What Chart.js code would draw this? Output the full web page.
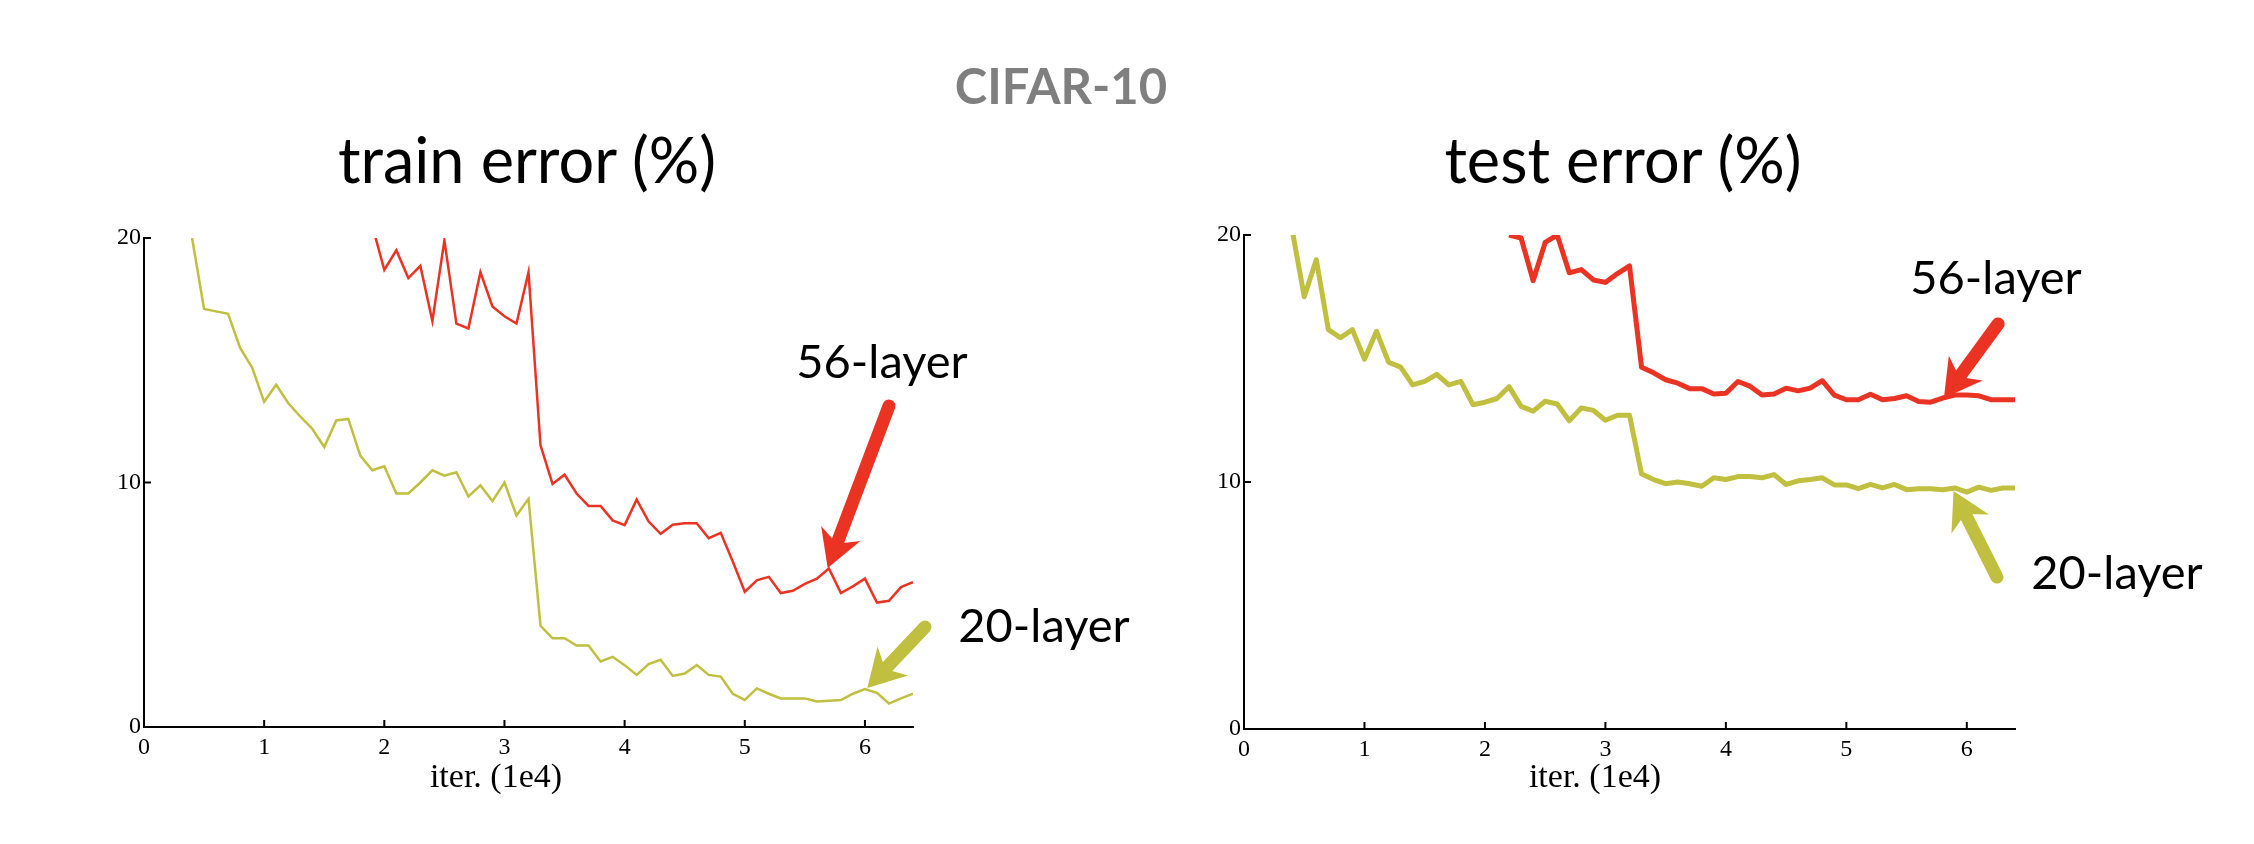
<!DOCTYPE html>
<html>
<head>
<meta charset="utf-8">
<script src="https://cdn.jsdelivr.net/npm/chart.js@4/dist/chart.umd.min.js"></script>
<style>
    html, body { margin: 0; padding: 0; background: #fff; }
    body { width: 2254px; height: 844px; position: relative; overflow: hidden; }
    canvas { position: absolute; top: 0; }
    .txt { position: absolute; white-space: nowrap; line-height: 1; transform: translateX(-50%); color: #000; }
    .sans { font-family: Lato, "Noto Sans", sans-serif; }
    .serif { font-family: "Liberation Serif", "DejaVu Serif", serif; }
</style>
</head>
<body>
<canvas id="trainChart" width="1127" height="844" style="left:0"></canvas>
<canvas id="testChart" width="1127" height="844" style="left:1127px"></canvas>

<div class="txt sans" style="left:1061px; top:61px; font-size:49px; font-weight:bold; color:#7f7f7f;">CIFAR-10</div>
<div class="txt sans" style="left:527px; top:127px; font-size:63px;">train error (%)</div>
<div class="txt sans" style="left:1623px; top:127px; font-size:63px;">test error (%)</div>
<div class="txt serif" style="left:496px; top:759px; font-size:34px;">iter. (1e4)</div>
<div class="txt serif" style="left:1595px; top:759px; font-size:34px;">iter. (1e4)</div>
<div class="txt sans" style="left:882px; top:337px; font-size:47px;">56-layer</div>
<div class="txt sans" style="left:1044px; top:601px; font-size:47px;">20-layer</div>
<div class="txt sans" style="left:1996px; top:253px; font-size:47px;">56-layer</div>
<div class="txt sans" style="left:2117px; top:548px; font-size:47px;">20-layer</div>

<script>
// iterations (1e4) and error (%)
const iter20 = [0.4, 0.5, 0.6, 0.7, 0.8, 0.9, 1.0, 1.1, 1.2, 1.3, 1.4, 1.5, 1.6, 1.7, 1.8, 1.9,
    2.0, 2.1, 2.2, 2.3, 2.4, 2.5, 2.6, 2.7, 2.8, 2.9, 3.0, 3.1, 3.2, 3.3, 3.4, 3.5, 3.6, 3.7, 3.8, 3.9,
    4.0, 4.1, 4.2, 4.3, 4.4, 4.5, 4.6, 4.7, 4.8, 4.9, 5.0, 5.1, 5.2, 5.3, 5.4, 5.5, 5.6, 5.7, 5.8, 5.9,
    6.0, 6.1, 6.2, 6.3, 6.4];
const trainIter56 = [1.9, 2.0, 2.1, 2.2, 2.3, 2.4, 2.5, 2.6, 2.7, 2.8, 2.9, 3.0, 3.1, 3.2, 3.3, 3.4,
    3.5, 3.6, 3.7, 3.8, 3.9, 4.0, 4.1, 4.2, 4.3, 4.4, 4.5, 4.6, 4.7, 4.8, 4.9, 5.0, 5.1, 5.2, 5.3, 5.4,
    5.5, 5.6, 5.7, 5.8, 5.9, 6.0, 6.1, 6.2, 6.3, 6.4];
const testIter56 = [2.2, 2.3, 2.4, 2.5, 2.6, 2.7, 2.8, 2.9, 3.0, 3.1, 3.2, 3.3, 3.4, 3.5, 3.6, 3.7,
    3.8, 3.9, 4.0, 4.1, 4.2, 4.3, 4.4, 4.5, 4.6, 4.7, 4.8, 4.9, 5.0, 5.1, 5.2, 5.3, 5.4, 5.5, 5.6, 5.7,
    5.8, 5.9, 6.0, 6.1, 6.2, 6.3, 6.4];

const train20 = [20.0, 17.1, 17.0, 16.9, 15.5, 14.7, 13.3, 14.0, 13.25, 12.7, 12.2, 11.45, 12.54, 12.6, 11.1, 10.5,
    10.66, 9.55, 9.55, 10.0, 10.5, 10.28, 10.42, 9.43, 9.88, 9.24, 10.0, 8.65, 9.33, 4.14, 3.63, 3.63, 3.33, 3.33, 2.68, 2.87,
    2.53, 2.13, 2.57, 2.75, 2.09, 2.19, 2.53, 2.13, 2.06, 1.36, 1.11, 1.58, 1.36, 1.17, 1.17, 1.17, 1.04, 1.07, 1.1, 1.36,
    1.55, 1.4, 0.96, 1.17, 1.36];
const train56 = [20.5, 18.7, 19.5, 18.36, 18.86, 16.6, 19.9, 16.5, 16.3, 18.6, 17.2, 16.8, 16.5, 18.6, 11.52, 9.94,
    10.32, 9.55, 9.04, 9.04, 8.45, 8.26, 9.3, 8.4, 7.9, 8.27, 8.33, 8.33, 7.72, 7.94, 6.77, 5.53, 6.0, 6.14, 5.48, 5.57,
    5.85, 6.07, 6.48, 5.48, 5.75, 6.07, 5.09, 5.16, 5.72, 5.92];
const test20 = [20.2, 17.5, 19.0, 16.17, 15.84, 16.17, 14.97, 16.1, 14.85, 14.65, 13.93, 14.07, 14.36, 13.93, 14.07, 13.13,
    13.23, 13.38, 13.86, 13.06, 12.87, 13.27, 13.16, 12.48, 13.0, 12.9, 12.5, 12.7, 12.7, 10.32, 10.1, 9.93, 10.0, 9.93, 9.83, 10.17,
    10.1, 10.22, 10.22, 10.17, 10.3, 9.9, 10.05, 10.1, 10.17, 9.88, 9.88, 9.73, 9.9, 9.76, 9.9, 9.69, 9.73, 9.73, 9.69, 9.76,
    9.59, 9.79, 9.66, 9.76, 9.76];
const test56 = [20.0, 19.88, 18.15, 19.7, 20.0, 18.47, 18.6, 18.18, 18.08, 18.44, 18.75, 14.65, 14.42, 14.14, 14.0, 13.78,
    13.78, 13.56, 13.59, 14.07, 13.88, 13.52, 13.56, 13.8, 13.69, 13.8, 14.1, 13.52, 13.33, 13.33, 13.55, 13.33, 13.38, 13.49, 13.26, 13.23,
    13.4, 13.52, 13.52, 13.49, 13.33, 13.33, 13.33];

const xTicks = [0, 1, 2, 3, 4, 5, 6];
const yTicks = [0, 10, 20];

const RED = '#ea3323';
const GREEN = '#c0bf40';

Chart.defaults.animation = false;
Chart.defaults.devicePixelRatio = 1;

function toPoints(xs, ys) {
    return xs.map((x, i) => ({x: x, y: ys[i]}));
}

function drawArrow(ctx, x1, y1, x2, y2, color) {
    // tail (x1,y1) -> tip (x2,y2), notched head like the slide arrows
    let dx = x2 - x1, dy = y2 - y1;
    let len = Math.hypot(dx, dy);
    let ux = dx / len, uy = dy / len;
    let px = -uy, py = ux;
    let headLen = 37, headHalf = 21, notch = 26;
    ctx.save();
    ctx.strokeStyle = color;
    ctx.fillStyle = color;
    ctx.lineWidth = 13;
    ctx.lineCap = 'round';
    ctx.beginPath();
    ctx.moveTo(x1, y1);
    ctx.lineTo(x2 - ux * notch, y2 - uy * notch);
    ctx.stroke();
    ctx.beginPath();
    ctx.moveTo(x2, y2);
    ctx.lineTo(x2 - ux * headLen + px * headHalf, y2 - uy * headLen + py * headHalf);
    ctx.lineTo(x2 - ux * notch, y2 - uy * notch);
    ctx.lineTo(x2 - ux * headLen - px * headHalf, y2 - uy * headLen - py * headHalf);
    ctx.closePath();
    ctx.fill();
    ctx.restore();
}

function makeDecor(arrows) {
    return {
        id: 'decor',
        afterDatasetsDraw(chart) {
            let ctx = chart.ctx;
            let xs = chart.scales.x, ys = chart.scales.y;
            let area = chart.chartArea;
            //inward tick marks, matlab style
            ctx.save();
            ctx.strokeStyle = '#000';
            ctx.lineWidth = 2;
            ctx.beginPath();
            xs.ticks.forEach(t => {
                if (t.value === 0) return;
                let px = xs.getPixelForValue(t.value);
                ctx.moveTo(px, area.bottom);
                ctx.lineTo(px, area.bottom - 7);
            });
            ys.ticks.forEach(t => {
                if (t.value === 0) return;
                let py = ys.getPixelForValue(t.value);
                ctx.moveTo(area.left, py);
                ctx.lineTo(area.left + 7, py);
            });
            ctx.stroke();
            ctx.restore();
            //arrows in data coordinates
            arrows.forEach(a => {
                drawArrow(ctx,
                    xs.getPixelForValue(a.tail[0]), ys.getPixelForValue(a.tail[1]),
                    xs.getPixelForValue(a.tip[0]), ys.getPixelForValue(a.tip[1]),
                    a.color);
            });
        }
    };
}

function makeChart(id, sets, lineWidth, padding, arrows) {
    let tickFont = {family: "'Liberation Serif', 'DejaVu Serif', serif", size: 24};
    return new Chart(document.getElementById(id), {
        type: 'line',
        data: {
            datasets: sets.map(s => ({
                data: toPoints(s.x, s.y),
                borderColor: s.color,
                borderWidth: lineWidth,
                borderJoinStyle: lineWidth > 3 ? 'round' : 'miter',
                pointRadius: 0,
                tension: 0,
                fill: false
            }))
        },
        options: {
            responsive: false,
            layout: {padding: padding},
            plugins: {legend: {display: false}, tooltip: {enabled: false}},
            scales: {
                x: {
                    type: 'linear',
                    min: 0,
                    max: 6.4,
                    afterBuildTicks: (scale) => { scale.ticks = xTicks.map(v => ({value: v})); },
                    afterFit: (scale) => { scale.height = 60; },
                    ticks: {font: tickFont, color: '#000', padding: 6, includeBounds: false},
                    grid: {display: false, drawTicks: false},
                    border: {display: true, color: '#000', width: 2}
                },
                y: {
                    min: 0,
                    max: 20,
                    afterBuildTicks: (scale) => { scale.ticks = yTicks.map(v => ({value: v})); },
                    afterFit: (scale) => { scale.width = 60; },
                    ticks: {font: tickFont, color: '#000', padding: 3},
                    grid: {display: false, drawTicks: false},
                    border: {display: true, color: '#000', width: 2}
                }
            }
        },
        plugins: [makeDecor(arrows)]
    });
}

//train error
makeChart('trainChart', [
    {x: iter20, y: train20, color: GREEN},
    {x: trainIter56, y: train56, color: RED}
], 2.5, {left: 84, right: 214, top: 238, bottom: 57}, [
    {tail: [6.2, 13.13], tip: [5.69, 6.5], color: RED},
    {tail: [6.5, 4.09], tip: [6.02, 1.6], color: GREEN}
]);

//test error
makeChart('testChart', [
    {x: iter20, y: test20, color: GREEN},
    {x: testIter56, y: test56, color: RED}
], 5, {left: 57, right: 239, top: 235, bottom: 55}, [
    {tail: [6.26, 16.4], tip: [5.81, 13.4], color: RED},
    {tail: [6.25, 6.15], tip: [5.89, 9.64], color: GREEN}
]);
</script>
</body>
</html>
